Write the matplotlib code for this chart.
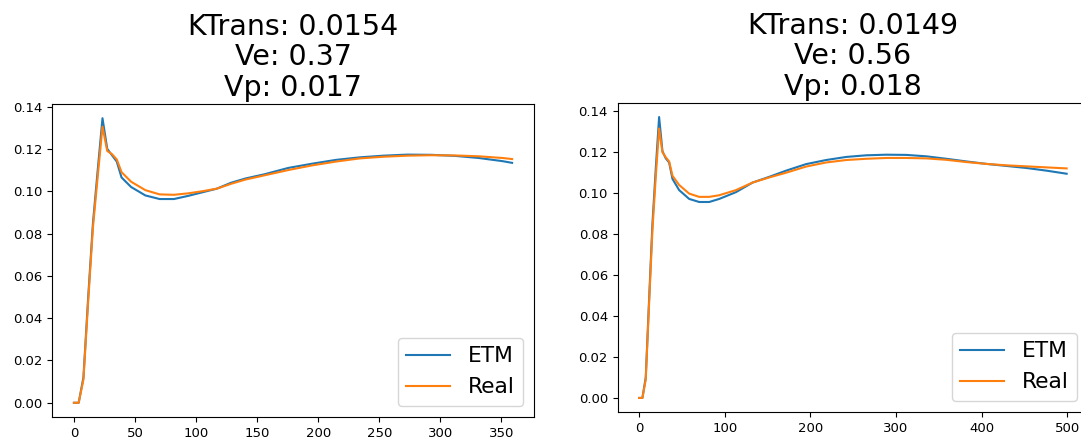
import matplotlib.pyplot as plt

# Curvas de concentración: modelo ETM frente a la señal real
t_a = [0, 3.9, 7.8, 11.7, 15.6, 19.5, 23.4, 27.3, 31.2, 35.1, 39.0, 46.8, 58.5, 70.2, 81.9,
       93.6, 105.3, 117, 128.7, 140.4, 156, 175.5, 195, 214.5, 234, 253.5, 273, 292.5,
       312, 331.5, 351, 358.8]
etm_a = [0, 0, 0.012, 0.05, 0.085, 0.11, 0.1345, 0.120, 0.117, 0.114, 0.1065, 0.102, 0.098,
         0.0963, 0.0963, 0.0978, 0.0995, 0.1012, 0.104, 0.106, 0.108, 0.111, 0.113, 0.1148,
         0.116, 0.1168, 0.1173, 0.1172, 0.1167, 0.1157, 0.1142, 0.1134]
real_a = [0, 0, 0.011, 0.048, 0.083, 0.107, 0.1305, 0.119, 0.1175, 0.115, 0.109, 0.1045, 0.1005,
          0.0985, 0.0983, 0.0990, 0.1000, 0.1012, 0.1035, 0.1055, 0.1075, 0.1100, 0.1122, 0.1140,
          0.1155, 0.1163, 0.1168, 0.1170, 0.1169, 0.1165, 0.1157, 0.1152]
params_a = {"KTrans": "0.0154", "Ve": "0.37", "Vp": "0.017"}

t_b = [0, 3.9, 7.8, 11.7, 15.6, 19.5, 23.4, 27.3, 31.2, 35.1, 39.0, 46.8, 58.5, 70.2, 81.9,
       93.6, 113.1, 132.6, 152.1, 171.6, 195, 218.4, 241.8, 265.2, 288.6, 312, 335.4, 358.8,
       382.2, 405.6, 429, 452.4, 475.8, 499.2]
etm_b = [0, 0, 0.010, 0.048, 0.085, 0.112, 0.1372, 0.1205, 0.117, 0.115, 0.107, 0.1015, 0.0972,
         0.0957, 0.0957, 0.0972, 0.1005, 0.1052, 0.108, 0.111, 0.1142, 0.1162, 0.1177, 0.1185,
         0.1188, 0.1187, 0.1180, 0.1168, 0.1155, 0.1143, 0.1133, 0.1123, 0.1110, 0.1095]
real_b = [0, 0, 0.009, 0.046, 0.082, 0.108, 0.1316, 0.120, 0.1175, 0.1155, 0.1085, 0.104, 0.0998,
          0.0982, 0.0982, 0.0990, 0.1015, 0.1052, 0.1077, 0.1100, 0.1130, 0.1150, 0.1162, 0.1168,
          0.1172, 0.1172, 0.1170, 0.1163, 0.1152, 0.1143, 0.1136, 0.1131, 0.1126, 0.1121]
params_b = {"KTrans": "0.0149", "Ve": "0.56", "Vp": "0.018"}

fig = plt.figure(figsize=(10.81, 4.41), dpi=100)

# posiciones de los ejes en fracción de figura (el derecho sobresale un poco)
ax1 = fig.add_axes([0.0481, 0.0544, 0.4459, 0.7098])
ax2 = fig.add_axes([0.5714, 0.0658, 0.4351, 0.7007])

for ax, t, etm, real, p in [(ax1, t_a, etm_a, real_a, params_a),
                            (ax2, t_b, etm_b, real_b, params_b)]:
    ax.plot(t, etm, label="ETM")
    ax.plot(t, real, label="Real")
    ax.set_title("KTrans: %s\nVe: %s\nVp: %s" % (p["KTrans"], p["Ve"], p["Vp"]),
                 fontsize=20.5, linespacing=1.1)
    ax.tick_params(labelsize=9.5, length=3.5)
    ax.legend(loc="lower right", fontsize=15.7)

plt.savefig("out.png", dpi=100)
plt.close()
